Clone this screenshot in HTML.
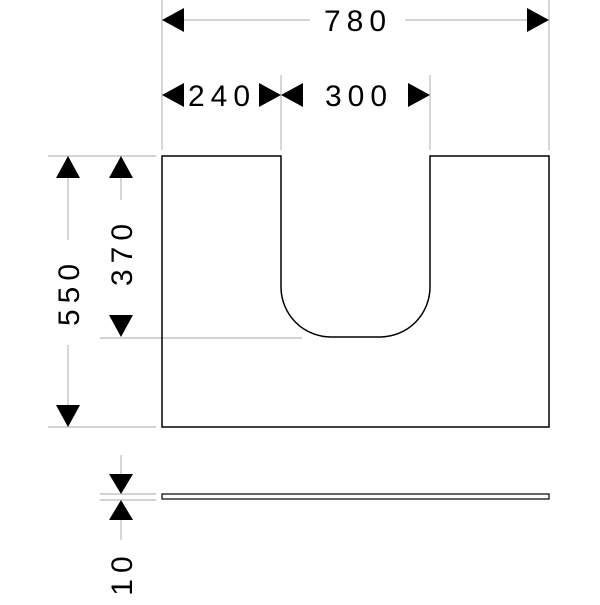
<!DOCTYPE html>
<html><head><style>body{margin:0;background:#fff}</style></head><body>
<svg width="600" height="600" viewBox="0 0 600 600" xmlns="http://www.w3.org/2000/svg" font-family="Liberation Sans, sans-serif">
<g stroke="#bbb" stroke-width="1.2" fill="none">
<line x1="162" y1="0" x2="162" y2="150"/>
<line x1="549" y1="0" x2="549" y2="150"/>
<line x1="281" y1="75" x2="281" y2="150"/>
<line x1="430" y1="75" x2="430" y2="150"/>
<line x1="48" y1="156" x2="156" y2="156"/>
<line x1="48" y1="427" x2="156" y2="427"/>
<line x1="100" y1="338" x2="302" y2="338"/>
<line x1="100" y1="494" x2="156" y2="494"/>
<line x1="100" y1="500" x2="156" y2="500"/>
<line x1="162" y1="20" x2="310" y2="20"/>
<line x1="405" y1="20" x2="549" y2="20"/>
<line x1="68" y1="156" x2="68" y2="240"/>
<line x1="68" y1="345" x2="68" y2="427"/>
<line x1="121" y1="156" x2="121" y2="200"/>
<line x1="121" y1="455" x2="121" y2="480"/>
<line x1="121" y1="510" x2="121" y2="540"/>
</g>
<g fill="#000">
<polygon points="162,20 184,8 184,32"/>
<polygon points="549,20 527,8 527,32"/>
<polygon points="162,95 184,83 184,107"/>
<polygon points="281,95 259,83 259,107"/>
<polygon points="281,95 303,83 303,107"/>
<polygon points="430,95 408,83 408,107"/>
<polygon points="68,156 56,178 80,178"/>
<polygon points="68,427 56,405 80,405"/>
<polygon points="121,156 109,178 133,178"/>
<polygon points="121,337 109,315 133,315"/>
<polygon points="121,494 109,474 133,474"/>
<polygon points="121,500 109,520 133,520"/>
</g>
<path d="M162,156 H281 V287 A50,50 0 0 0 331,337 H380 A50,50 0 0 0 430,287 V156 H549 V427 H162 Z" fill="none" stroke="#000" stroke-width="1.5"/>
<rect x="162" y="494" width="387" height="5" fill="none" stroke="#000" stroke-width="1.2"/>
<g font-size="30" fill="#000" letter-spacing="6">
<text x="358" y="31" text-anchor="middle">780</text>
<text x="222" y="106" text-anchor="middle">240</text>
<text x="359" y="106" text-anchor="middle">300</text>
<text transform="translate(79,292) rotate(-90)" text-anchor="middle">550</text>
<text transform="translate(132,252) rotate(-90)" text-anchor="middle">370</text>
<text transform="translate(132,573) rotate(-90)" text-anchor="middle">10</text>
</g>
</svg>
</body></html>
